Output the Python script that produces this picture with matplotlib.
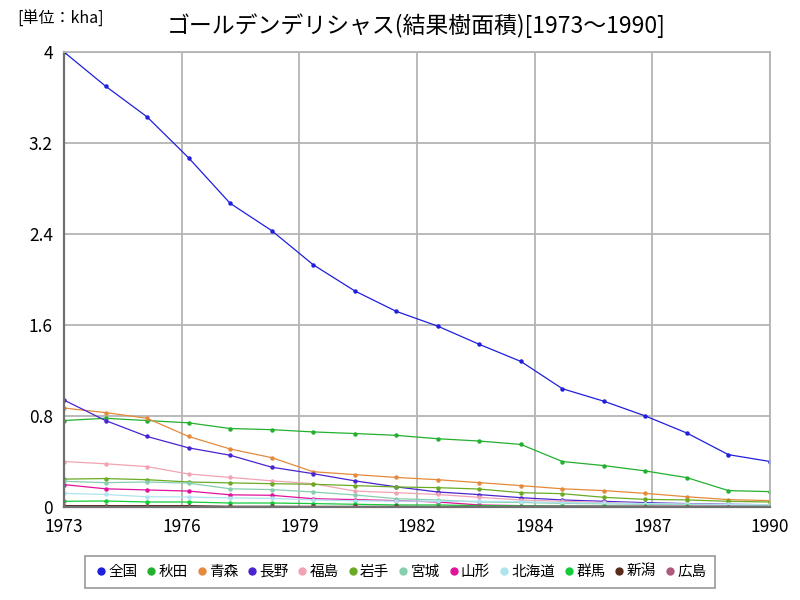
import numpy as np
import matplotlib
matplotlib.use("Agg")
import matplotlib.pyplot as plt
from matplotlib.lines import Line2D

plt.rcParams['font.family'] = ['Noto Sans CJK JP', 'DejaVu Sans']

years = list(range(1973, 1991))
xtick_labels = ['1973', '1976', '1979', '1982', '1984', '1987', '1990']
yticks = [0, 0.8, 1.6, 2.4, 3.2, 4]
ytick_labels = ['0', '0.8', '1.6', '2.4', '3.2', '4']

names = ['全国', '秋田', '青森', '長野', '福島', '岩手', '宮城', '山形', '北海道', '群馬', '新潟', '広島']
colors = ['#1f1fdc', '#22b02e', '#e58a3c', '#4a24d0', '#f2a3b3', '#6aab24',
          '#86cfae', '#e2129c', '#aee4ee', '#14cc3a', '#5a2a1c', '#ad5a7d']

zenkoku = [4.0, 3.70, 3.43, 3.07, 2.67, 2.43, 2.13, 1.90, 1.72, 1.59, 1.43, 1.28, 1.04, 0.93, 0.80, 0.65, 0.46, 0.40]
akita = [0.76, 0.78, 0.76, 0.74, 0.69, 0.68, 0.66, 0.646, 0.63, 0.60, 0.58, 0.55, 0.40, 0.364, 0.317, 0.258, 0.144, 0.135]
aomori = [0.87, 0.83, 0.78, 0.62, 0.51, 0.434, 0.31, 0.285, 0.26, 0.24, 0.214, 0.188, 0.16, 0.144, 0.12, 0.09, 0.065, 0.056]
nagano = [0.94, 0.76, 0.62, 0.52, 0.455, 0.35, 0.293, 0.23, 0.177, 0.132, 0.109, 0.082, 0.062, 0.05, 0.038, 0.03, 0.024, 0.02]
fukushima = [0.40, 0.38, 0.355, 0.29, 0.26, 0.23, 0.205, 0.14, 0.126, 0.11, 0.085, 0.062, 0.05, 0.04, 0.03, 0.025, 0.02, 0.018]
iwate = [0.245, 0.25, 0.24, 0.22, 0.212, 0.205, 0.2, 0.188, 0.176, 0.17, 0.158, 0.126, 0.117, 0.085, 0.067, 0.062, 0.05, 0.044]
miyagi = [0.226, 0.214, 0.22, 0.21, 0.16, 0.153, 0.132, 0.106, 0.073, 0.062, 0.044, 0.04, 0.032, 0.028, 0.024, 0.02, 0.016, 0.014]
yamagata = [0.197, 0.16, 0.15, 0.14, 0.107, 0.103, 0.073, 0.065, 0.056, 0.044, 0.018, 0.012, 0.01, 0.009, 0.008, 0.007, 0.006, 0.005]
hokkaido = [0.12, 0.11, 0.09, 0.088, 0.08, 0.076, 0.062, 0.055, 0.052, 0.05, 0.05, 0.047, 0.038, 0.034, 0.03, 0.026, 0.022, 0.02]
gunma = [0.05, 0.053, 0.044, 0.044, 0.035, 0.035, 0.03, 0.024, 0.018, 0.018, 0.012, 0.01, 0.008, 0.007, 0.006, 0.005, 0.004, 0.004]
niigata = [0.012, 0.012, 0.012, 0.012, 0.006, 0.006, 0.005, 0.005, 0.005, 0.004, 0.004, 0.004, 0.003, 0.003, 0.003, 0.003, 0.002, 0.002]
hiroshima = [0.003, 0.003, 0.003, 0.003, 0.003, 0.003, 0.002, 0.002, 0.002, 0.002, 0.002, 0.002, 0.002, 0.001, 0.001, 0.001, 0.001, 0.001]

series = [zenkoku, akita, aomori, nagano, fukushima, iwate, miyagi, yamagata,
          hokkaido, gunma, niigata, hiroshima]

fig = plt.figure(figsize=(8, 6), dpi=100)
ax = fig.add_axes([0.08, 0.155, 0.8825, 0.7583])

for vals, c in zip(series, colors):
    ax.plot(years, vals, color=c, lw=0.9, marker='o', ms=3.2, mew=0)

ax.set_xlim(1973, 1990)
ax.set_ylim(0, 4)
ax.set_xticks(np.linspace(1973, 1990, 7))
ax.set_xticklabels(xtick_labels)
ax.set_yticks(yticks)
ax.set_yticklabels(ytick_labels)
ax.tick_params(length=0, labelsize=12.5, pad=8)
ax.grid(True, color='#b4b4b4', lw=1.3)
ax.set_axisbelow(True)
for s in ['left', 'bottom']:
    ax.spines[s].set_color('#707070')
    ax.spines[s].set_linewidth(1.6)
for s in ['top', 'right']:
    ax.spines[s].set_color('#b4b4b4')
    ax.spines[s].set_linewidth(1.3)

fig.text(0.52, 0.958, 'ゴールデンデリシャス(結果樹面積)[1973～1990]',
         ha='center', va='center', fontsize=16.5)
fig.text(0.022, 0.968, '[単位：kha]', ha='left', va='center', fontsize=11.5)

handles = [Line2D([], [], ls='none', marker='o', ms=6, mew=0, color=c) for c in colors]
leg = fig.legend(handles, names, loc='center', bbox_to_anchor=(0.5, 0.047), ncol=12,
                 frameon=True, fancybox=False, fontsize=10.5, handletextpad=0.0,
                 columnspacing=0.45, handlelength=1.0, borderpad=0.6)
leg.get_frame().set_edgecolor('#808080')
leg.get_frame().set_linewidth(1.2)

fig.savefig('out.png', dpi=100)
